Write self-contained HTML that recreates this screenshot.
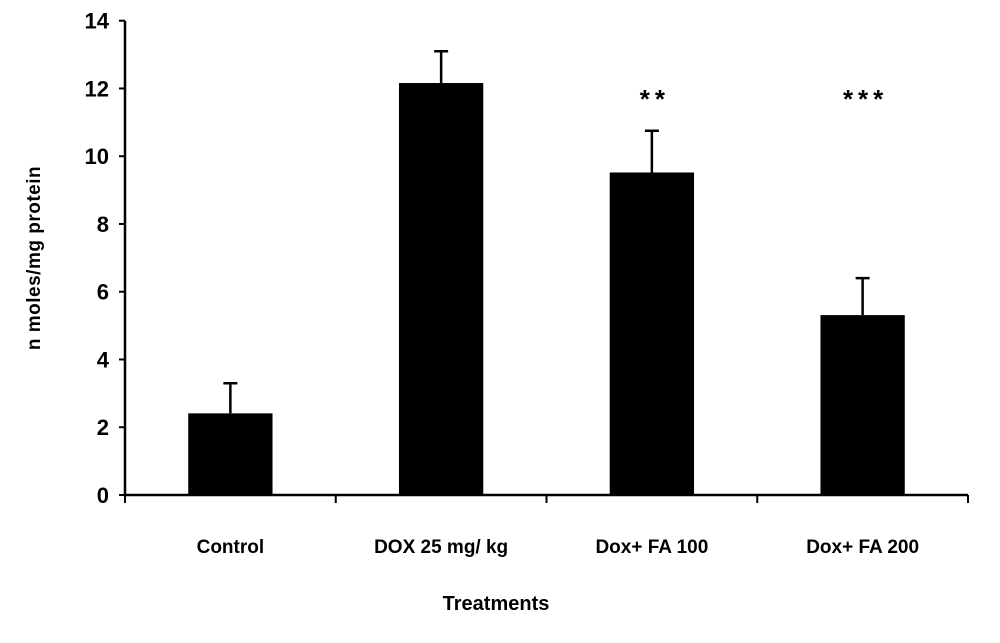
<!DOCTYPE html>
<html><head><meta charset="utf-8"><style>
body{margin:0;background:#fff}
svg text{font-family:"Liberation Sans",sans-serif;font-weight:bold;fill:#000}
</style></head><body>
<svg id="chart" width="1000" height="638" viewBox="0 0 1000 638" xmlns="http://www.w3.org/2000/svg">
<g id="plot"></g>
<text x="496" y="610" font-size="20" text-anchor="middle">Treatments</text>
<text transform="translate(40,258) rotate(-90)" font-size="19" text-anchor="middle" letter-spacing="0.5">n moles/mg protein</text>
</svg>
<script>
const categories = ["Control", "DOX 25 mg/ kg", "Dox+ FA 100", "Dox+ FA 200"];
const values = [2.41, 12.16, 9.52, 5.31];
const errors = [0.89, 0.94, 1.23, 1.09];
const stars = ["", "", "**", "***"];
const yTicks = [0, 2, 4, 6, 8, 10, 12, 14];

const x0 = 125, x1 = 968, y0 = 495, yTop = 20.7, yMax = 14;
const catW = (x1 - x0) / categories.length;
const y = v => y0 - (y0 - yTop) * v / yMax;
const xc = i => x0 + catW * (i + 0.5);
const NS = "http://www.w3.org/2000/svg";
const g = document.getElementById("plot");
function mk(tag, attrs) { const e = document.createElementNS(NS, tag); for (const k in attrs) e.setAttribute(k, attrs[k]); g.appendChild(e); return e; }

let e = mk("line", {x1: x0, y1: y(yMax), x2: x0, y2: y0, stroke: "#000", "stroke-width": 2.5});


e = mk("line", {x1: x0, y1: y0, x2: x1, y2: y0, stroke: "#000", "stroke-width": 2.5});



yTicks.forEach(t => {
  let l = mk("line", {x1: x0 - 6, y1: y(t), x2: x0, y2: y(t), stroke: "#000", "stroke-width": 2});
  
  
  let tx = mk("text", {x: 109, y: y(t) + 8, "font-size": 22, "text-anchor": "end"});
  tx.textContent = t;
  
  
});
for (let i = 0; i <= categories.length; i++) {
  let l = mk("line", {x1: x0 + catW * i, y1: y0, x2: x0 + catW * i, y2: y0 + 8, stroke: "#000", "stroke-width": 2});
  
  
}
const bw = catW * 0.4;
categories.forEach((c, i) => {
  const cx = xc(i);
  let r = mk("rect", {x: cx - bw / 2, y: y(values[i]), width: bw, height: y0 - y(values[i]), fill: "#000"});
  
  
  const et = y(values[i] + errors[i]);
  let el = mk("path", {d: `M${cx},${y(values[i])}V${et}M${cx - 7},${et}H${cx + 7}`, stroke: "#000", "stroke-width": 2.5, fill: "none"});
  
  
  let tx = mk("text", {x: cx, y: 553, "font-size": 19, "text-anchor": "middle"});
  tx.textContent = c;
  
  
  if (stars[i]) {
    let s = mk("text", {x: cx + 3, y: 108, "font-size": 26, "text-anchor": "middle", "letter-spacing": 5});
    s.textContent = stars[i];
    
    
  }
});
</script>
</body></html>
